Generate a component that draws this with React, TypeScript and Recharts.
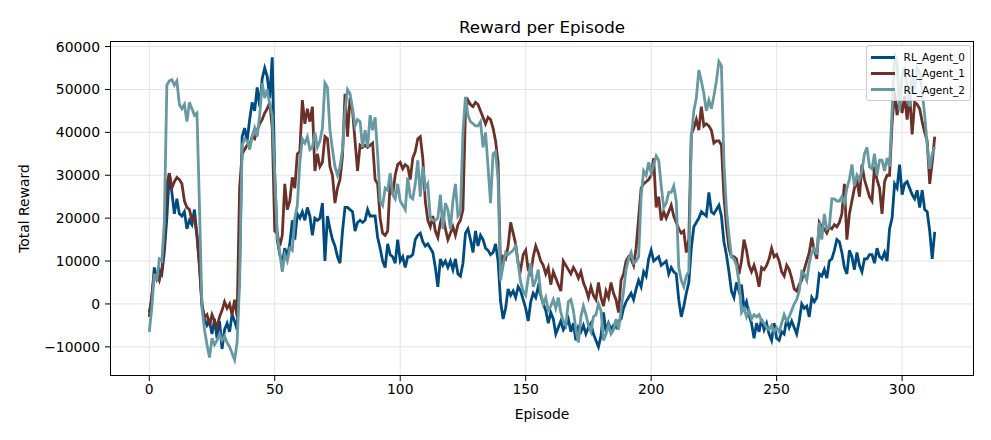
import React from 'react';
import { LineChart, Line, XAxis, YAxis, CartesianGrid } from 'recharts';

// Reward per episode (episodes 0..313)
const agent0 = [
  -2000, 1000, 8500, 6000, 8000, 7000, 12000, 20000, 30500, 26000,
  21000, 24500, 21000, 20500, 21500, 17500, 19500, 18500, 22000, 16000,
  9000, 0, -3500, -5000, -4000, -7000, -3500, -8000, -4000, -10500,
  -6000, -4500, -6500, -2500, -4000, -6000, 8000, 39000, 41000, 38000,
  43000, 47000, 45000, 50500, 46000, 52500, 55000, 53000, 48000, 57500,
  30000, 15000, 11500, 9500, 13000, 11000, 14000, 19500, 15000, 21000,
  20000, 21500, 19500, 22500, 20500, 16000, 20000, 19500, 20000, 23500,
  10000, 20500, 17500, 15000, 13500, 11000, 9500, 17000, 22500, 22500,
  22000, 21500, 17000, 19000, 19500, 19000, 19500, 22000, 20500, 20500,
  20500, 15500, 13000, 10000, 8500, 14000, 11500, 11000, 9500, 15000,
  10000, 11000, 8500, 11000, 11000, 11500, 15000, 16000, 16500, 14500,
  13500, 14000, 13000, 12000, 8500, 4000, 10500, 9000, 10000, 8500,
  10000, 8000, 10500, 7000, 6500, 9500, 16500, 17500, 15000, 12000,
  17000, 13500, 16000, 15000, 13000, 12500, 11500, 12000, 14000, 10000,
  500, -3500, -1000, 3500, 2000, 3000, 1500, 4000, 3000, 1000,
  -1000, -4000, 500, 2500, 1500, 4000, 2000, 0, -1500, -4500,
  -2000, -3500, -7000, -5500, -4000, -6000, -5000, -3500, -6500, -4500,
  -8500, -5500, -6500, -5000, -7000, -5500, -4500, -7000, -8500, -10000,
  -7500, -2000, -6500, -4500, -6000, -5000, -5500, -4000, -3500, -1000,
  500, 1500, 2500, 1000, 3500, 5500, 4000, 7500, 6500, 10500,
  12500, 10000, 10500, 11000, 9000, 9500, 10000, 7000, 8500, 7500,
  7000, 1000, -3000, -500, 2500, 5000, 13000, 18000, 19000, 20000,
  21500, 21000, 20500, 26000, 21500, 21000, 22000, 23000, 20500, 14500,
  11500, 7500, 3000, 1500, 5000, 3000, 4500, -1000, 500, -2500,
  -4500, -8000, -4500, -6500, -3500, -6000, -4500, -7000, -8500, -4500,
  -8000, -8500, -6500, -7000, -3500, -5500, -4000, -5500, -7000, -4000,
  0, -1000, -500, -3000, 1500, 500, 1500, 7000, 6500, 8000,
  6000, 10000, 10500, 12500, 15000, 14500, 12000, 8500, 7000, 12500,
  11000, 8000, 12000, 9000, 7500, 10500, 10500, 11500, 11500, 9500,
  13000, 11000, 10500, 12000, 10000, 17500, 20000, 28000, 27000, 32500,
  25500, 28000, 28500, 27000, 25500, 24500, 26500, 22500, 26500, 22000,
  21500, 17000, 10500, 16800,
];

const agent1 = [
  -3000, 2000, 7000, 7000, 5500, 8000, 15000, 28000, 30500, 27000,
  28500, 29500, 29000, 28000, 24000, 22500, 22000, 19500, 20000, 16000,
  9000, -500, -3000, -2500, -5000, -2500, -4000, -5500, -3000, -1500,
  500, -1000, 0, -2500, 1000, -3000, 27000, 35000, 36000, 37000,
  37000, 39000, 38500, 40500, 42000, 43000, 44500, 45500, 47000, 41000,
  17000, 16500, 13500, 16000, 28000, 22000, 24000, 29500, 27000, 35000,
  35500, 47500, 42000, 45500, 42500, 46000, 31000, 35000, 32000, 33000,
  39000, 38500, 32000, 30000, 23500, 27000, 29000, 34500, 49000, 39000,
  48000, 45000, 38000, 31000, 37000, 36500, 37000, 36500, 37000, 37500,
  29000, 28000, 20000, 16500, 16000, 17000, 28500, 25500, 30000, 32500,
  33000, 31500, 32500, 32000, 29000, 34000, 35500, 38500, 39000, 34000,
  24000, 19500, 18000, 20500, 17000, 15500, 19000, 21000, 17500, 15000,
  16500, 18000, 16000, 18500, 19500, 22000, 45000, 47500, 46500, 46000,
  47000, 46500, 45000, 43500, 42000, 43500, 43000, 41000, 38000, 33000,
  7500, 11000, 10500, 13500, 19000, 16500, 14000, 9500, 8000, 11500,
  12500, 8000, 7000, 11000, 13500, 12000, 10000, 9000, 7000, 8500,
  4500, 7500, 6000, 4500, 3000, 10000, 9000, 8000, 7000, 8500,
  7500, 6000, 7500, 5000, 3500, 1500, 4000, 2000, 1000, 5000,
  1500, -500, 3000, 1500, 5000, 2500, 1000, -2000, 5500, 7000,
  10000, 11000, 10500, 9000, 13000, 20000, 27000, 28000, 28500, 29000,
  30000, 34000, 22500, 25000, 19500, 21500, 20000, 21500, 23000, 20500,
  19000, 17500, 16500, 17000, 12000, 15000, 39500, 41000, 43000, 40500,
  46000, 41500, 42000, 41500, 40500, 37500, 38000, 38000, 37000, 25000,
  18000, 13000, 11000, 11000, 10500, 7000, 10000, 15000, 12500, 9000,
  7500, 9000, 7000, 4000, 8500, 8000, 9000, 10500, 13000, 11000,
  11500, 10000, 7500, 6500, 9000, 8000, 6000, 3500, 3000, 4500,
  5500, 8000, 10000, 12000, 15500, 12500, 10500, 19000, 18000, 17500,
  16500, 18000, 17500, 18500, 18000, 19000, 21000, 28000, 15000, 21000,
  24000, 27000, 29000, 25000, 32500, 29000, 27000, 25000, 24000, 32000,
  29000, 27000, 21000, 28500, 30000, 30000, 42000, 49500, 44000, 47500,
  44500, 48500, 43000, 49000, 39500, 47000, 46500, 45500, 42500, 40000,
  38000, 28000, 33000, 39000,
];

const agent2 = [
  -6500, -1000, 7000, 5500, 10500, 10000, 19000, 51000, 52000, 52300,
  51000, 52000, 46500, 45500, 46500, 42500, 47000, 45500, 44000, 44500,
  23000, -1000, -6000, -9500, -12500, -8000, -9500, -8500, -7000, -8500,
  -7500, -9000, -10000, -11500, -13000, -9000, 5000, 37000, 38500, 38000,
  36000, 39000, 41000, 39000, 44000, 51500, 48000, 50000, 46500, 44000,
  30000, 16000, 12000, 7500, 11500, 10000, 13000, 12500, 20000, 23000,
  33000, 38500, 37500, 39000, 36000, 36500, 40000, 36500, 38000, 41000,
  51500, 50500, 40500, 36000, 32000, 30000, 32000, 36000, 45000, 50000,
  49000, 45500, 41500, 43000, 42500, 36500, 40500, 36500, 44000, 40500,
  43500, 35000, 24000, 23000, 27000, 26500, 30500, 25500, 24500, 28000,
  24000, 23000, 22000, 29500, 25000, 24500, 28000, 33500, 25000, 32000,
  27000, 28000, 20000, 19500, 19500, 20000, 25500, 17500, 23500, 22000,
  17500, 24000, 28000, 20500, 21500, 40000, 48300, 44000, 42500, 42000,
  41500, 41500, 42500, 36500, 40000, 32000, 23500, 35000, 35500, 29000,
  5500, 9000, 12000, 11500, 12000, 12500, 13500, 9500, 5000, 3000,
  2000, 6000, 9500, 4000, 5500, 8000, 2500, 0, 1500, -1500,
  -500, 1000, -1000, 1500, -2000, -4000, -5000, 500, 1000, -1500,
  -6000, -9000, -3000, -500, -2500, -5000, -6500, -3000, -2500, 0,
  -1500, -8500, -7000, -5000, -7000, -6000, -3500, -6000, -1500, 3000,
  8000, 10500, 12000, 9500, 10000, 11000, 25000, 31000, 30000, 33000,
  30500, 32500, 34500, 33500, 27500, 22500, 23500, 26000, 26000, 27500,
  24000, 8500, 5500, 4000, 6500, 7500, 39000, 45000, 48000, 54500,
  52000, 49000, 45000, 47500, 45500, 48500, 52000, 56500, 55500, 33000,
  22000, 16000, 11000, 10500, 9000, 5000, -2000, -1000, -3000, -1500,
  -3500, -2500, -3000, -2500, -4000, -4500, -5500, -6000, -5000, -6500,
  -5500, -6500, -4500, -2500, -4000, -3000, -1500, 0, 1000, 3000,
  7500, 7000, 5500, 9500, 12000, 13000, 11500, 19000, 15000, 21000,
  17500, 18000, 24500, 24500, 24000, 24000, 25000, 23500, 27000, 29000,
  32500, 27500, 30000, 29000, 31000, 35000, 36500, 32000, 31500, 35000,
  30000, 33500, 33500, 31000, 34000, 32000, 45000, 58500, 56000, 45000,
  53000, 55300, 50000, 46000, 53500, 50000, 55000, 54000, 49500, 44000,
  37000, 31500, 35000, 36600,
];

const seriesNames = ['RL_Agent_0', 'RL_Agent_1', 'RL_Agent_2'];
const seriesColors = ['#004b7f', '#6b3128', '#6699a1'];
const xTicks = [0, 50, 100, 150, 200, 250, 300];
const yTicks = [-10000, 0, 10000, 20000, 30000, 40000, 50000, 60000];

const rows = agent0.map((v, i) => ({
  episode: i,
  a0: v,
  a1: agent1[i],
  a2: agent2[i],
}));

const FONT = '"DejaVu Sans", sans-serif';

const fmtY = (v: number) => String(v).replace('-', '\u2212');

// matplotlib-style legend box, sits inside the top-right corner of the axes
const LegendBox = () => (
  <div
    style={{
      position: 'absolute',
      right: 20,
      top: 45,
      background: 'rgba(255,255,255,0.8)',
      border: '1px solid #cccccc',
      borderRadius: 3,
      padding: '3px 5px 2px 4px',
      fontFamily: FONT,
      fontSize: 10.5,
      color: '#000',
    }}
  >
    {seriesNames.map((n, i) => (
      <div key={n} style={{ display: 'flex', alignItems: 'center', height: 16.3 }}>
        <span
          style={{
            display: 'inline-block',
            width: 24,
            height: 3,
            background: seriesColors[i],
            marginRight: 9,
          }}
        />
        {n}
      </div>
    ))}
  </div>
);

export default function App() {
  return (
    <div style={{ position: 'absolute', left: 0, top: 0, width: 991, height: 440, background: '#fff' }}>
      <div
        style={{
          position: 'absolute',
          left: 0,
          width: 1084,
          top: 17,
          textAlign: 'center',
          fontFamily: FONT,
          fontSize: 16.7,
          color: '#000',
        }}
      >
        Reward per Episode
      </div>
      <LineChart
        width={991}
        height={440}
        data={rows}
        margin={{ top: 41, right: 17, bottom: 30, left: 0 }}
        style={{ fontFamily: FONT }}
      >
        <CartesianGrid stroke="#e3e3e3" strokeWidth={1} horizontalValues={yTicks} verticalValues={xTicks} />
        <XAxis
          dataKey="episode"
          type="number"
          domain={[-15.65, 328.65]}
          ticks={xTicks}
          allowDataOverflow
          height={34}
          tickSize={5}
          tickMargin={3}
          axisLine={false}
          tickLine={{ stroke: '#000' }}
          tick={{ fill: '#000', fontSize: 13.9 }}
          label={{ value: 'Episode', position: 'insideBottom', offset: -9, fill: '#000', fontSize: 13.9 }}
        />
        <YAxis
          type="number"
          domain={[-16800, 61300]}
          ticks={yTicks}
          allowDataOverflow
          width={110}
          tickSize={5}
          tickMargin={5}
          axisLine={false}
          tickLine={{ stroke: '#000' }}
          tick={{ fill: '#000', fontSize: 13.9 }}
          tickFormatter={fmtY}
          label={{
            value: 'Total Reward',
            angle: -90,
            position: 'insideLeft',
            offset: 24,
            fill: '#000',
            fontSize: 13.9,
            style: { textAnchor: 'middle' },
          }}
        />
        {['a0', 'a1', 'a2'].map((k, i) => (
          <Line
            key={k}
            type="linear"
            dataKey={k}
            name={seriesNames[i]}
            stroke={seriesColors[i]}
            strokeWidth={2.8}
            dot={false}
            activeDot={false}
            isAnimationActive={false}
          />
        ))}
      </LineChart>
      <div
        style={{
          position: 'absolute',
          left: 110,
          top: 41,
          width: 864,
          height: 335,
          boxSizing: 'border-box',
          border: '1px solid #000',
          pointerEvents: 'none',
        }}
      />
      <LegendBox />
    </div>
  );
}
